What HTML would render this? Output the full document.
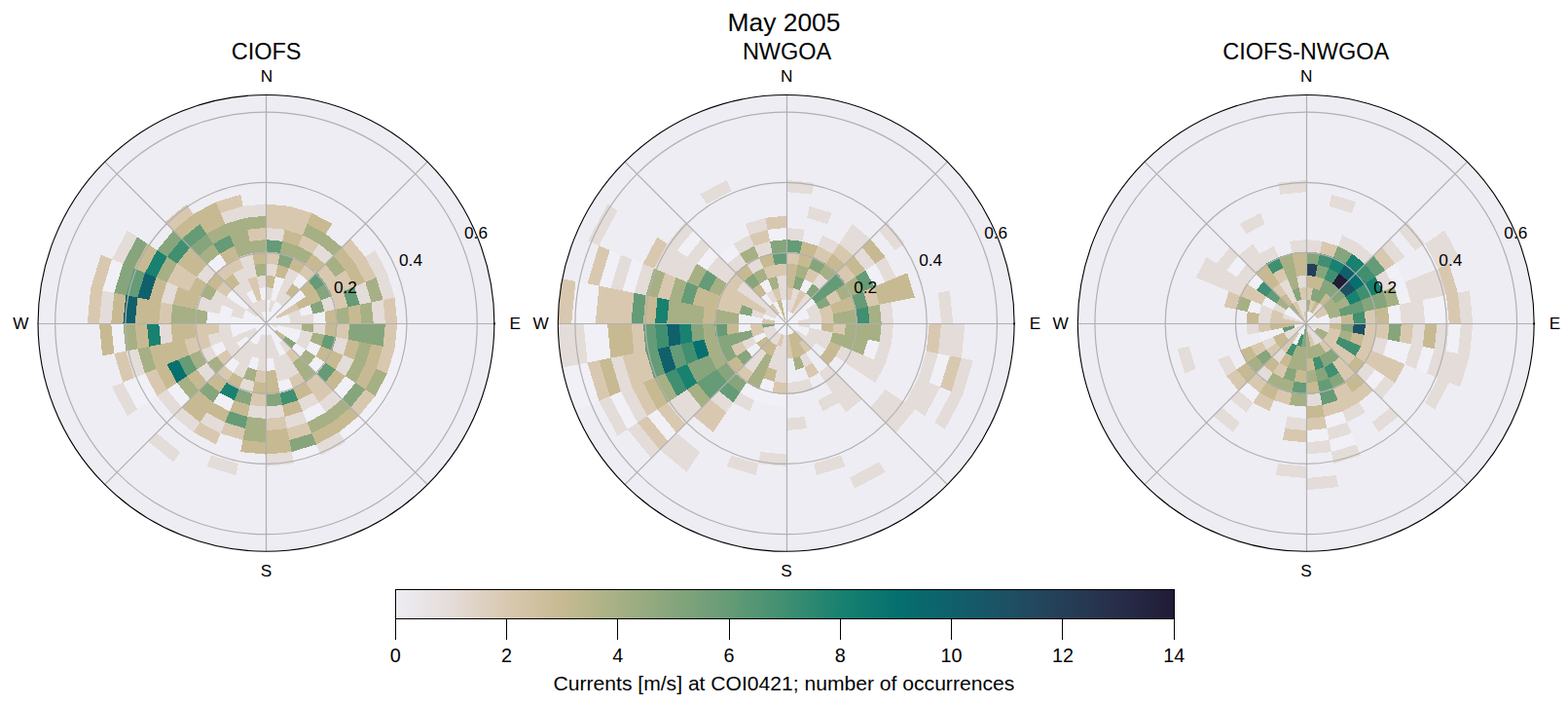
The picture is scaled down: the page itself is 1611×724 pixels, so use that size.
<!DOCTYPE html>
<html><head><meta charset="utf-8"><title>May 2005</title>
<style>html,body{margin:0;padding:0;background:#fff}svg{display:block}text{font-family:"Liberation Sans",sans-serif;fill:#000}</style></head>
<body>
<svg width="1611" height="724" viewBox="0 0 1611 724">
<rect width="1611" height="724" fill="#fff"/>
<clipPath id="cp0"><circle cx="273.45" cy="331.90" r="234.4"/></clipPath>
<circle cx="273.45" cy="331.90" r="234.4" fill="#eeedf3"/>
<g clip-path="url(#cp0)" shape-rendering="crispEdges">
<path fill="#f0f0f6" d="M273.4 331.9L273.4 319.6L275.8 319.9L273.4 331.9ZM273.4 319.6L273.4 307.4L278.2 307.9L275.8 319.9ZM273.4 331.9L275.8 319.9L278.1 320.6L273.4 331.9ZM278.2 307.9L280.6 295.9L287.5 297.9L282.8 309.3ZM280.6 295.9L283.0 283.8L292.2 286.6L287.5 297.9ZM273.4 331.9L278.1 320.6L280.3 321.7L273.4 331.9ZM278.1 320.6L282.8 309.3L287.1 311.5L280.3 321.7ZM273.4 331.9L280.3 321.7L282.1 323.2L273.4 331.9ZM280.3 321.7L287.1 311.5L290.8 314.6L282.1 323.2ZM300.7 291.2L307.5 281.0L316.8 288.6L308.1 297.3ZM273.4 331.9L282.1 323.2L283.6 325.1L273.4 331.9ZM282.1 323.2L290.8 314.6L293.8 318.3L283.6 325.1ZM290.8 314.6L299.4 305.9L304.0 311.5L293.8 318.3ZM299.4 305.9L308.1 297.3L314.2 304.7L304.0 311.5ZM273.4 331.9L283.6 325.1L284.8 327.2L273.4 331.9ZM273.4 331.9L284.8 327.2L285.5 329.5L273.4 331.9ZM284.8 327.2L296.1 322.5L297.5 327.1L285.5 329.5ZM307.4 317.8L318.7 313.1L321.5 322.3L309.5 324.7ZM273.4 331.9L285.5 329.5L285.7 331.9L273.4 331.9ZM285.5 329.5L297.5 327.1L297.9 331.9L285.7 331.9ZM321.5 322.3L333.5 320.0L334.7 331.9L322.4 331.9ZM408.2 331.9L420.4 331.9L417.6 360.6L405.6 358.2ZM285.5 334.3L297.5 336.7L296.1 341.3L284.8 336.6ZM297.5 336.7L309.5 339.1L307.4 346.0L296.1 341.3ZM405.6 358.2L417.6 360.6L409.3 388.2L397.9 383.5ZM273.4 331.9L284.8 336.6L283.6 338.7L273.4 331.9ZM284.8 336.6L296.1 341.3L293.8 345.5L283.6 338.7ZM296.1 341.3L307.4 346.0L304.0 352.3L293.8 345.5ZM318.7 350.7L330.0 355.3L324.4 365.9L314.2 359.1ZM397.9 383.5L409.3 388.2L395.7 413.6L385.5 406.8ZM273.4 331.9L283.6 338.7L282.1 340.6L273.4 331.9ZM304.0 352.3L314.2 359.1L308.1 366.5L299.4 357.9ZM324.4 365.9L334.6 372.7L325.4 383.9L316.8 375.2ZM354.9 386.3L365.1 393.2L351.4 409.9L342.7 401.2ZM385.5 406.8L395.7 413.6L377.4 435.8L368.7 427.2ZM273.4 331.9L282.1 340.6L280.3 342.1L273.4 331.9ZM282.1 340.6L290.8 349.2L287.1 352.3L280.3 342.1ZM368.7 427.2L377.4 435.8L355.1 454.1L348.3 443.9ZM273.4 331.9L280.3 342.1L278.1 343.2L273.4 331.9ZM280.3 342.1L287.1 352.3L282.8 354.5L278.1 343.2ZM287.1 352.3L293.9 362.5L287.5 365.9L282.8 354.5ZM327.9 413.4L334.7 423.6L315.6 433.8L311.0 422.4ZM273.4 331.9L278.1 343.2L275.8 343.9L273.4 331.9ZM296.9 388.5L301.6 399.8L287.8 404.0L285.4 392.0ZM325.0 456.4L329.7 467.7L302.1 476.1L299.7 464.1ZM273.4 331.9L275.8 343.9L273.4 344.1L273.4 331.9ZM280.6 367.9L283.0 380.0L273.4 380.9L273.4 368.6ZM273.4 331.9L273.4 344.1L271.1 343.9L273.4 331.9ZM273.4 331.9L271.1 343.9L268.8 343.2L273.4 331.9ZM266.3 367.9L263.9 380.0L254.7 377.2L259.4 365.9ZM273.4 331.9L268.8 343.2L266.6 342.1L273.4 331.9ZM268.8 343.2L264.1 354.5L259.8 352.3L266.6 342.1ZM240.6 411.1L235.9 422.4L219.0 413.4L225.8 403.2ZM273.4 331.9L266.6 342.1L264.8 340.6L273.4 331.9ZM266.6 342.1L259.8 352.3L256.1 349.2L264.8 340.6ZM246.2 372.6L239.4 382.8L230.1 375.2L238.8 366.5ZM273.4 331.9L264.8 340.6L263.3 338.7L273.4 331.9ZM256.1 349.2L247.5 357.9L242.9 352.3L253.1 345.5ZM195.5 409.9L186.8 418.5L171.6 400.0L181.8 393.2ZM273.4 331.9L263.3 338.7L262.1 336.6L273.4 331.9ZM232.7 359.1L222.5 365.9L216.9 355.3L228.2 350.7ZM161.4 406.8L151.2 413.6L137.6 388.2L149.0 383.5ZM151.2 413.6L141.0 420.4L126.3 392.8L137.6 388.2ZM273.4 331.9L262.1 336.6L261.4 334.3L273.4 331.9ZM262.1 336.6L250.8 341.3L249.4 336.7L261.4 334.3ZM250.8 341.3L239.5 346.0L237.4 339.1L249.4 336.7ZM273.4 331.9L261.4 334.3L261.2 331.9L273.4 331.9ZM261.4 334.3L249.4 336.7L248.9 331.9L261.2 331.9ZM249.4 336.7L237.4 339.1L236.7 331.9L248.9 331.9ZM129.3 360.6L117.3 363.0L114.2 331.9L126.4 331.9ZM273.4 331.9L261.2 331.9L261.4 329.5L273.4 331.9ZM261.2 331.9L248.9 331.9L249.4 327.1L261.4 329.5ZM248.9 331.9L236.7 331.9L237.4 324.7L249.4 327.1ZM236.7 331.9L224.4 331.9L225.4 322.3L237.4 324.7ZM224.4 331.9L212.2 331.9L213.4 320.0L225.4 322.3ZM273.4 331.9L261.4 329.5L262.1 327.2L273.4 331.9ZM261.4 329.5L249.4 327.1L250.8 322.5L262.1 327.2ZM237.4 324.7L225.4 322.3L228.2 313.1L239.5 317.8ZM117.3 300.8L105.2 298.4L115.0 266.3L126.3 271.0ZM273.4 331.9L262.1 327.2L263.3 325.1L273.4 331.9ZM262.1 327.2L250.8 322.5L253.1 318.3L263.3 325.1ZM273.4 331.9L263.3 325.1L264.8 323.2L273.4 331.9ZM253.1 318.3L242.9 311.5L247.5 305.9L256.1 314.6ZM242.9 311.5L232.7 304.7L238.8 297.3L247.5 305.9ZM221.5 279.9L212.8 271.3L225.8 260.6L232.6 270.8ZM259.8 311.5L253.0 301.3L259.4 297.9L264.1 309.3ZM273.4 331.9L268.8 320.6L271.1 319.9L273.4 331.9ZM273.4 331.9L271.1 319.9L273.4 319.6L273.4 331.9ZM268.7 307.9L266.3 295.9L273.4 295.1L273.4 307.4Z"/>
<path fill="#e4dcd8" d="M273.4 307.4L273.4 295.1L280.6 295.9L278.2 307.9ZM273.4 282.9L273.4 270.6L285.4 271.8L283.0 283.8ZM273.4 246.1L273.4 233.9L292.6 235.8L290.2 247.8ZM275.8 319.9L278.2 307.9L282.8 309.3L278.1 320.6ZM282.8 309.3L287.5 297.9L293.9 301.3L287.1 311.5ZM287.5 297.9L292.2 286.6L300.7 291.2L293.9 301.3ZM292.2 286.6L296.9 275.3L307.5 281.0L300.7 291.2ZM287.1 311.5L293.9 301.3L299.4 305.9L290.8 314.6ZM321.1 260.6L327.9 250.4L342.7 262.6L334.1 271.3ZM375.3 263.8L385.5 257.0L397.9 280.3L386.6 285.0ZM296.1 322.5L307.4 317.8L309.5 324.7L297.5 327.1ZM330.0 308.5L341.4 303.8L345.5 317.6L333.5 320.0ZM364.0 294.4L375.3 289.7L381.6 310.4L369.6 312.8ZM386.6 285.0L397.9 280.3L405.6 305.6L393.6 308.0ZM297.5 327.1L309.5 324.7L310.2 331.9L297.9 331.9ZM309.5 324.7L321.5 322.3L322.4 331.9L310.2 331.9ZM381.6 310.4L393.6 308.0L395.9 331.9L383.7 331.9ZM273.4 331.9L285.7 331.9L285.5 334.3L273.4 331.9ZM285.7 331.9L297.9 331.9L297.5 336.7L285.5 334.3ZM297.9 331.9L310.2 331.9L309.5 339.1L297.5 336.7ZM322.4 331.9L334.7 331.9L333.5 343.8L321.5 341.5ZM273.4 331.9L285.5 334.3L284.8 336.6L273.4 331.9ZM309.5 339.1L321.5 341.5L318.7 350.7L307.4 346.0ZM345.5 346.2L357.6 348.6L352.7 364.7L341.4 360.0ZM307.4 346.0L318.7 350.7L314.2 359.1L304.0 352.3ZM352.7 364.7L364.0 369.4L354.9 386.3L344.7 379.5ZM290.8 349.2L299.4 357.9L293.9 362.5L287.1 352.3ZM342.7 401.2L351.4 409.9L334.7 423.6L327.9 413.4ZM293.9 362.5L300.7 372.6L292.2 377.2L287.5 365.9ZM300.7 372.6L307.5 382.8L296.9 388.5L292.2 377.2ZM321.1 403.2L327.9 413.4L311.0 422.4L306.3 411.1ZM348.3 443.9L355.1 454.1L329.7 467.7L325.0 456.4ZM278.1 343.2L282.8 354.5L278.2 355.9L275.8 343.9ZM282.8 354.5L287.5 365.9L280.6 367.9L278.2 355.9ZM287.5 365.9L292.2 377.2L283.0 380.0L280.6 367.9ZM292.2 377.2L296.9 388.5L285.4 392.0L283.0 380.0ZM311.0 422.4L315.6 433.8L295.0 440.0L292.6 428.0ZM275.8 343.9L278.2 355.9L273.4 356.4L273.4 344.1ZM278.2 355.9L280.6 367.9L273.4 368.6L273.4 356.4ZM290.2 416.0L292.6 428.0L273.4 429.9L273.4 417.6ZM299.7 464.1L302.1 476.1L273.4 478.9L273.4 466.6ZM273.4 344.1L273.4 356.4L268.7 355.9L271.1 343.9ZM273.4 356.4L273.4 368.6L266.3 367.9L268.7 355.9ZM273.4 368.6L273.4 380.9L263.9 380.0L266.3 367.9ZM273.4 417.6L273.4 429.9L254.3 428.0L256.7 416.0ZM271.1 343.9L268.7 355.9L264.1 354.5L268.8 343.2ZM268.7 355.9L266.3 367.9L259.4 365.9L264.1 354.5ZM261.5 392.0L259.1 404.0L245.3 399.8L250.0 388.5ZM244.8 476.1L242.4 488.1L212.5 479.0L217.2 467.7ZM264.1 354.5L259.4 365.9L253.0 362.5L259.8 352.3ZM259.4 365.9L254.7 377.2L246.2 372.6L253.0 362.5ZM254.7 377.2L250.0 388.5L239.4 382.8L246.2 372.6ZM231.3 433.8L226.6 445.1L205.4 433.8L212.2 423.6ZM259.8 352.3L253.0 362.5L247.5 357.9L256.1 349.2ZM253.0 362.5L246.2 372.6L238.8 366.5L247.5 357.9ZM205.4 433.8L198.6 443.9L178.2 427.2L186.8 418.5ZM185.0 464.3L178.2 474.5L152.2 453.2L160.8 444.5ZM264.8 340.6L256.1 349.2L253.1 345.5L263.3 338.7ZM247.5 357.9L238.8 366.5L232.7 359.1L242.9 352.3ZM221.5 383.9L212.8 392.5L202.2 379.5L212.3 372.7ZM186.8 418.5L178.2 427.2L161.4 406.8L171.6 400.0ZM263.3 338.7L253.1 345.5L250.8 341.3L262.1 336.6ZM253.1 345.5L242.9 352.3L239.5 346.0L250.8 341.3ZM242.9 352.3L232.7 359.1L228.2 350.7L239.5 346.0ZM222.5 365.9L212.3 372.7L205.5 360.0L216.9 355.3ZM141.0 420.4L130.9 427.2L115.0 397.5L126.3 392.8ZM239.5 346.0L228.2 350.7L225.4 341.5L237.4 339.1ZM228.2 350.7L216.9 355.3L213.4 343.8L225.4 341.5ZM149.0 383.5L137.6 388.2L129.3 360.6L141.3 358.2ZM237.4 339.1L225.4 341.5L224.4 331.9L236.7 331.9ZM177.3 351.0L165.3 353.4L163.2 331.9L175.4 331.9ZM114.2 331.9L101.9 331.9L105.2 298.4L117.3 300.8ZM249.4 327.1L237.4 324.7L239.5 317.8L250.8 322.5ZM225.4 322.3L213.4 320.0L216.9 308.5L228.2 313.1ZM213.4 320.0L201.4 317.6L205.5 303.8L216.9 308.5ZM177.3 312.8L165.3 310.4L171.6 289.7L182.9 294.4ZM250.8 322.5L239.5 317.8L242.9 311.5L253.1 318.3ZM239.5 317.8L228.2 313.1L232.7 304.7L242.9 311.5ZM228.2 313.1L216.9 308.5L222.5 297.9L232.7 304.7ZM126.3 271.0L115.0 266.3L130.9 236.6L141.0 243.4ZM263.3 325.1L253.1 318.3L256.1 314.6L264.8 323.2ZM212.3 291.1L202.2 284.3L212.8 271.3L221.5 279.9ZM273.4 331.9L264.8 323.2L266.6 321.7L273.4 331.9ZM264.8 323.2L256.1 314.6L259.8 311.5L266.6 321.7ZM256.1 314.6L247.5 305.9L253.0 301.3L259.8 311.5ZM247.5 305.9L238.8 297.3L246.2 291.2L253.0 301.3ZM273.4 331.9L266.6 321.7L268.8 320.6L273.4 331.9ZM266.6 321.7L259.8 311.5L264.1 309.3L268.8 320.6ZM253.0 301.3L246.2 291.2L254.7 286.6L259.4 297.9ZM246.2 291.2L239.4 281.0L250.0 275.3L254.7 286.6ZM268.8 320.6L264.1 309.3L268.7 307.9L271.1 319.9ZM254.7 286.6L250.0 275.3L261.5 271.8L263.9 283.8ZM250.0 275.3L245.3 264.0L259.1 259.8L261.5 271.8ZM231.3 230.0L226.6 218.7L249.6 211.8L251.9 223.8ZM271.1 319.9L268.7 307.9L273.4 307.4L273.4 319.6ZM266.3 295.9L263.9 283.8L273.4 282.9L273.4 295.1ZM251.9 223.8L249.6 211.8L273.4 209.4L273.4 221.6Z"/>
<path fill="#c7ba92" d="M273.4 295.1L273.4 282.9L283.0 283.8L280.6 295.9ZM283.0 283.8L285.4 271.8L296.9 275.3L292.2 286.6ZM290.2 247.8L292.6 235.8L311.0 241.4L306.3 252.7ZM296.9 275.3L301.6 264.0L314.3 270.8L307.5 281.0ZM315.6 230.0L320.3 218.7L341.5 230.0L334.7 240.2ZM293.9 301.3L300.7 291.2L308.1 297.3L299.4 305.9ZM314.3 270.8L321.1 260.6L334.1 271.3L325.4 279.9ZM308.1 297.3L316.8 288.6L324.4 297.9L314.2 304.7ZM342.7 262.6L351.4 253.9L365.1 270.6L354.9 277.5ZM304.0 311.5L314.2 304.7L318.7 313.1L307.4 317.8ZM314.2 304.7L324.4 297.9L330.0 308.5L318.7 313.1ZM354.9 277.5L365.1 270.6L375.3 289.7L364.0 294.4ZM333.5 320.0L345.5 317.6L346.9 331.9L334.7 331.9ZM357.6 315.2L369.6 312.8L371.4 331.9L359.2 331.9ZM334.7 331.9L346.9 331.9L345.5 346.2L333.5 343.8ZM357.6 348.6L369.6 351.0L364.0 369.4L352.7 364.7ZM381.6 353.4L393.6 355.8L386.6 378.8L375.3 374.1ZM330.0 355.3L341.4 360.0L334.6 372.7L324.4 365.9ZM341.4 360.0L352.7 364.7L344.7 379.5L334.6 372.7ZM375.3 374.1L386.6 378.8L375.3 400.0L365.1 393.2ZM283.6 338.7L293.8 345.5L290.8 349.2L282.1 340.6ZM344.7 379.5L354.9 386.3L342.7 401.2L334.1 392.5ZM360.1 418.5L368.7 427.2L348.3 443.9L341.5 433.8ZM314.3 393.0L321.1 403.2L306.3 411.1L301.6 399.8ZM341.5 433.8L348.3 443.9L325.0 456.4L320.3 445.1ZM306.3 411.1L311.0 422.4L292.6 428.0L290.2 416.0ZM283.0 380.0L285.4 392.0L273.4 393.1L273.4 380.9ZM285.4 392.0L287.8 404.0L273.4 405.4L273.4 393.1ZM295.0 440.0L297.3 452.0L273.4 454.4L273.4 442.1ZM297.3 452.0L299.7 464.1L273.4 466.6L273.4 454.4ZM273.4 393.1L273.4 405.4L259.1 404.0L261.5 392.0ZM273.4 454.4L273.4 466.6L247.2 464.1L249.6 452.0ZM256.7 416.0L254.3 428.0L235.9 422.4L240.6 411.1ZM250.0 388.5L245.3 399.8L232.6 393.0L239.4 382.8ZM235.9 422.4L231.3 433.8L212.2 423.6L219.0 413.4ZM232.6 393.0L225.8 403.2L212.8 392.5L221.5 383.9ZM219.0 413.4L212.2 423.6L195.5 409.9L204.2 401.2ZM212.2 423.6L205.4 433.8L186.8 418.5L195.5 409.9ZM212.8 392.5L204.2 401.2L192.0 386.3L202.2 379.5ZM181.8 393.2L171.6 400.0L160.3 378.8L171.6 374.1ZM194.2 364.7L182.9 369.4L177.3 351.0L189.3 348.6ZM182.9 369.4L171.6 374.1L165.3 353.4L177.3 351.0ZM171.6 374.1L160.3 378.8L153.3 355.8L165.3 353.4ZM201.4 346.2L189.3 348.6L187.7 331.9L199.9 331.9ZM189.3 348.6L177.3 351.0L175.4 331.9L187.7 331.9ZM153.3 355.8L141.3 358.2L138.7 331.9L150.9 331.9ZM117.3 363.0L105.2 365.4L101.9 331.9L114.2 331.9ZM163.2 331.9L150.9 331.9L153.3 308.0L165.3 310.4ZM150.9 331.9L138.7 331.9L141.3 305.6L153.3 308.0ZM126.4 331.9L114.2 331.9L117.3 300.8L129.3 303.2ZM201.4 317.6L189.3 315.2L194.2 299.1L205.5 303.8ZM189.3 315.2L177.3 312.8L182.9 294.4L194.2 299.1ZM165.3 310.4L153.3 308.0L160.3 285.0L171.6 289.7ZM205.5 303.8L194.2 299.1L202.2 284.3L212.3 291.1ZM149.0 280.3L137.6 275.6L151.2 250.2L161.4 257.0ZM222.5 297.9L212.3 291.1L221.5 279.9L230.1 288.6ZM202.2 284.3L192.0 277.5L204.2 262.6L212.8 271.3ZM192.0 277.5L181.8 270.6L195.5 253.9L204.2 262.6ZM238.8 297.3L230.1 288.6L239.4 281.0L246.2 291.2ZM186.8 245.3L178.2 236.6L198.6 219.9L205.4 230.0ZM232.6 270.8L225.8 260.6L240.6 252.7L245.3 264.0ZM212.2 240.2L205.4 230.0L226.6 218.7L231.3 230.0ZM205.4 230.0L198.6 219.9L221.9 207.4L226.6 218.7ZM261.5 271.8L259.1 259.8L273.4 258.4L273.4 270.6Z"/>
<path fill="#d9c8b0" d="M273.4 270.6L273.4 258.4L287.8 259.8L285.4 271.8ZM273.4 233.9L273.4 221.6L295.0 223.8L292.6 235.8ZM273.4 221.6L273.4 209.4L297.3 211.8L295.0 223.8ZM292.6 235.8L295.0 223.8L315.6 230.0L311.0 241.4ZM295.0 223.8L297.3 211.8L320.3 218.7L315.6 230.0ZM306.3 252.7L311.0 241.4L327.9 250.4L321.1 260.6ZM307.5 281.0L314.3 270.8L325.4 279.9L316.8 288.6ZM325.4 279.9L334.1 271.3L344.7 284.3L334.6 291.1ZM351.4 253.9L360.1 245.3L375.3 263.8L365.1 270.6ZM283.6 325.1L293.8 318.3L296.1 322.5L284.8 327.2ZM293.8 318.3L304.0 311.5L307.4 317.8L296.1 322.5ZM334.6 291.1L344.7 284.3L352.7 299.1L341.4 303.8ZM344.7 284.3L354.9 277.5L364.0 294.4L352.7 299.1ZM365.1 270.6L375.3 263.8L386.6 285.0L375.3 289.7ZM341.4 303.8L352.7 299.1L357.6 315.2L345.5 317.6ZM393.6 308.0L405.6 305.6L408.2 331.9L395.9 331.9ZM346.9 331.9L359.2 331.9L357.6 348.6L345.5 346.2ZM395.9 331.9L408.2 331.9L405.6 358.2L393.6 355.8ZM393.6 355.8L405.6 358.2L397.9 383.5L386.6 378.8ZM375.3 400.0L385.5 406.8L368.7 427.2L360.1 418.5ZM299.4 357.9L308.1 366.5L300.7 372.6L293.9 362.5ZM325.4 383.9L334.1 392.5L321.1 403.2L314.3 393.0ZM334.1 392.5L342.7 401.2L327.9 413.4L321.1 403.2ZM307.5 382.8L314.3 393.0L301.6 399.8L296.9 388.5ZM315.6 433.8L320.3 445.1L297.3 452.0L295.0 440.0ZM292.6 428.0L295.0 440.0L273.4 442.1L273.4 429.9ZM273.4 380.9L273.4 393.1L261.5 392.0L263.9 380.0ZM273.4 405.4L273.4 417.6L256.7 416.0L259.1 404.0ZM251.9 440.0L249.6 452.0L226.6 445.1L231.3 433.8ZM226.6 445.1L221.9 456.4L198.6 443.9L205.4 433.8ZM239.4 382.8L232.6 393.0L221.5 383.9L230.1 375.2ZM238.8 366.5L230.1 375.2L222.5 365.9L232.7 359.1ZM171.6 400.0L161.4 406.8L149.0 383.5L160.3 378.8ZM216.9 355.3L205.5 360.0L201.4 346.2L213.4 343.8ZM205.5 360.0L194.2 364.7L189.3 348.6L201.4 346.2ZM137.6 388.2L126.3 392.8L117.3 363.0L129.3 360.6ZM225.4 341.5L213.4 343.8L212.2 331.9L224.4 331.9ZM213.4 343.8L201.4 346.2L199.9 331.9L212.2 331.9ZM175.4 331.9L163.2 331.9L165.3 310.4L177.3 312.8ZM101.9 331.9L89.7 331.9L93.2 296.1L105.2 298.4ZM105.2 298.4L93.2 296.1L103.7 261.6L115.0 266.3ZM194.2 299.1L182.9 294.4L192.0 277.5L202.2 284.3ZM182.9 294.4L171.6 289.7L181.8 270.6L192.0 277.5ZM232.7 304.7L222.5 297.9L230.1 288.6L238.8 297.3ZM230.1 288.6L221.5 279.9L232.6 270.8L239.4 281.0ZM178.2 236.6L169.5 228.0L191.8 209.7L198.6 219.9ZM239.4 281.0L232.6 270.8L245.3 264.0L250.0 275.3ZM264.1 309.3L259.4 297.9L266.3 295.9L268.7 307.9ZM259.4 297.9L254.7 286.6L263.9 283.8L266.3 295.9ZM226.6 218.7L221.9 207.4L247.2 199.7L249.6 211.8ZM256.7 247.8L254.3 235.8L273.4 233.9L273.4 246.1Z"/>
<path fill="#659b76" d="M273.4 258.4L273.4 246.1L290.2 247.8L287.8 259.8ZM316.8 288.6L325.4 279.9L334.6 291.1L324.4 297.9ZM352.7 299.1L364.0 294.4L369.6 312.8L357.6 315.2ZM333.5 343.8L345.5 346.2L341.4 360.0L330.0 355.3ZM334.6 372.7L344.7 379.5L334.1 392.5L325.4 383.9ZM254.3 428.0L251.9 440.0L231.3 433.8L235.9 422.4ZM202.2 379.5L192.0 386.3L182.9 369.4L194.2 364.7ZM141.3 305.6L129.3 303.2L137.6 275.6L149.0 280.3ZM195.5 253.9L186.8 245.3L205.4 230.0L212.2 240.2ZM225.8 260.6L219.0 250.4L235.9 241.4L240.6 252.7Z"/>
<path fill="#86a57c" d="M285.4 271.8L287.8 259.8L301.6 264.0L296.9 275.3ZM324.4 297.9L334.6 291.1L341.4 303.8L330.0 308.5ZM318.7 313.1L330.0 308.5L333.5 320.0L321.5 322.3ZM359.2 331.9L371.4 331.9L369.6 351.0L357.6 348.6ZM371.4 331.9L383.7 331.9L381.6 353.4L369.6 351.0ZM383.7 331.9L395.9 331.9L393.6 355.8L381.6 353.4ZM293.8 345.5L304.0 352.3L299.4 357.9L290.8 349.2ZM365.1 393.2L375.3 400.0L360.1 418.5L351.4 409.9ZM320.3 445.1L325.0 456.4L299.7 464.1L297.3 452.0ZM287.8 404.0L290.2 416.0L273.4 417.6L273.4 405.4ZM259.1 404.0L256.7 416.0L240.6 411.1L245.3 399.8ZM225.8 403.2L219.0 413.4L204.2 401.2L212.8 392.5ZM129.3 303.2L117.3 300.8L126.3 271.0L137.6 275.6ZM137.6 275.6L126.3 271.0L141.0 243.4L151.2 250.2ZM171.6 263.8L161.4 257.0L178.2 236.6L186.8 245.3ZM204.2 262.6L195.5 253.9L212.2 240.2L219.0 250.4Z"/>
<path fill="#a6b084" d="M287.8 259.8L290.2 247.8L306.3 252.7L301.6 264.0ZM301.6 264.0L306.3 252.7L321.1 260.6L314.3 270.8ZM311.0 241.4L315.6 230.0L334.7 240.2L327.9 250.4ZM327.9 250.4L334.7 240.2L351.4 253.9L342.7 262.6ZM334.1 271.3L342.7 262.6L354.9 277.5L344.7 284.3ZM375.3 289.7L386.6 285.0L393.6 308.0L381.6 310.4ZM345.5 317.6L357.6 315.2L359.2 331.9L346.9 331.9ZM369.6 312.8L381.6 310.4L383.7 331.9L371.4 331.9ZM310.2 331.9L322.4 331.9L321.5 341.5L309.5 339.1ZM321.5 341.5L333.5 343.8L330.0 355.3L318.7 350.7ZM369.6 351.0L381.6 353.4L375.3 374.1L364.0 369.4ZM364.0 369.4L375.3 374.1L365.1 393.2L354.9 386.3ZM386.6 378.8L397.9 383.5L385.5 406.8L375.3 400.0ZM314.2 359.1L324.4 365.9L316.8 375.2L308.1 366.5ZM308.1 366.5L316.8 375.2L307.5 382.8L300.7 372.6ZM316.8 375.2L325.4 383.9L314.3 393.0L307.5 382.8ZM351.4 409.9L360.1 418.5L341.5 433.8L334.7 423.6ZM334.7 423.6L341.5 433.8L320.3 445.1L315.6 433.8ZM273.4 429.9L273.4 442.1L251.9 440.0L254.3 428.0ZM273.4 442.1L273.4 454.4L249.6 452.0L251.9 440.0ZM263.9 380.0L261.5 392.0L250.0 388.5L254.7 377.2ZM230.1 375.2L221.5 383.9L212.3 372.7L222.5 365.9ZM204.2 401.2L195.5 409.9L181.8 393.2L192.0 386.3ZM212.3 372.7L202.2 379.5L194.2 364.7L205.5 360.0ZM160.3 378.8L149.0 383.5L141.3 358.2L153.3 355.8ZM141.3 358.2L129.3 360.6L126.4 331.9L138.7 331.9ZM212.2 331.9L199.9 331.9L201.4 317.6L213.4 320.0ZM199.9 331.9L187.7 331.9L189.3 315.2L201.4 317.6ZM187.7 331.9L175.4 331.9L177.3 312.8L189.3 315.2ZM216.9 308.5L205.5 303.8L212.3 291.1L222.5 297.9ZM171.6 289.7L160.3 285.0L171.6 263.8L181.8 270.6ZM212.8 271.3L204.2 262.6L219.0 250.4L225.8 260.6ZM219.0 250.4L212.2 240.2L231.3 230.0L235.9 241.4ZM245.3 264.0L240.6 252.7L256.7 247.8L259.1 259.8ZM240.6 252.7L235.9 241.4L254.3 235.8L256.7 247.8ZM235.9 241.4L231.3 230.0L251.9 223.8L254.3 235.8ZM263.9 283.8L261.5 271.8L273.4 270.6L273.4 282.9ZM259.1 259.8L256.7 247.8L273.4 246.1L273.4 258.4ZM254.3 235.8L251.9 223.8L273.4 221.6L273.4 233.9Z"/>
<path fill="#408f71" d="M301.6 399.8L306.3 411.1L290.2 416.0L287.8 404.0ZM181.8 270.6L171.6 263.8L186.8 245.3L195.5 253.9Z"/>
<path fill="#198170" d="M245.3 399.8L240.6 411.1L225.8 403.2L232.6 393.0ZM165.3 353.4L153.3 355.8L150.9 331.9L163.2 331.9ZM160.3 285.0L149.0 280.3L161.4 257.0L171.6 263.8Z"/>
<path fill="#05706f" d="M192.0 386.3L181.8 393.2L171.6 374.1L182.9 369.4Z"/>
<path fill="#0f606b" d="M138.7 331.9L126.4 331.9L129.3 303.2L141.3 305.6ZM153.3 308.0L141.3 305.6L149.0 280.3L160.3 285.0Z"/>
</g>
<g fill="none" stroke="#b0b0b0" stroke-width="1.2"><circle cx="273.45" cy="331.90" r="72.26"/><circle cx="273.45" cy="331.90" r="144.52"/><circle cx="273.45" cy="331.90" r="216.78"/><line x1="273.5" y1="97.5" x2="273.5" y2="566.3"/><line x1="39.0" y1="332.5" x2="507.9" y2="332.5"/><line x1="273.4" y1="331.9" x2="439.2" y2="166.2"/><line x1="273.4" y1="331.9" x2="439.2" y2="497.6"/><line x1="273.4" y1="331.9" x2="107.7" y2="497.6"/><line x1="273.4" y1="331.9" x2="107.7" y2="166.2"/></g>
<circle cx="273.45" cy="331.90" r="234.4" fill="none" stroke="#000" stroke-width="1.1"/>
<rect x="507.0" y="331.5" width="1.8" height="1.8" fill="#000"/>
<clipPath id="cp1"><circle cx="807.70" cy="331.90" r="234.4"/></clipPath>
<circle cx="807.70" cy="331.90" r="234.4" fill="#eeedf3"/>
<g clip-path="url(#cp1)" shape-rendering="crispEdges">
<path fill="#f0f0f6" d="M807.7 331.9L807.7 319.6L810.1 319.9L807.7 331.9ZM807.7 331.9L810.1 319.9L812.4 320.6L807.7 331.9ZM807.7 331.9L812.4 320.6L814.5 321.7L807.7 331.9ZM821.8 297.9L826.5 286.6L834.9 291.2L828.1 301.3ZM807.7 331.9L814.5 321.7L816.4 323.2L807.7 331.9ZM807.7 331.9L816.4 323.2L817.9 325.1L807.7 331.9ZM816.4 323.2L825.0 314.6L828.1 318.3L817.9 325.1ZM825.0 314.6L833.7 305.9L838.3 311.5L828.1 318.3ZM807.7 331.9L817.9 325.1L819.0 327.2L807.7 331.9ZM817.9 325.1L828.1 318.3L830.3 322.5L819.0 327.2ZM889.2 277.5L899.4 270.6L909.6 289.7L898.2 294.4ZM807.7 331.9L819.0 327.2L819.7 329.5L807.7 331.9ZM819.0 327.2L830.3 322.5L831.7 327.1L819.7 329.5ZM807.7 331.9L819.7 329.5L820.0 331.9L807.7 331.9ZM807.7 331.9L820.0 331.9L819.7 334.3L807.7 331.9ZM832.2 331.9L844.5 331.9L843.7 339.1L831.7 336.7ZM807.7 331.9L819.7 334.3L819.0 336.6L807.7 331.9ZM819.7 334.3L831.7 336.7L830.3 341.3L819.0 336.6ZM891.8 348.6L903.8 351.0L898.2 369.4L886.9 364.7ZM963.9 363.0L975.9 365.4L966.1 397.5L954.8 392.8ZM807.7 331.9L819.0 336.6L817.9 338.7L807.7 331.9ZM819.0 336.6L830.3 341.3L828.1 345.5L817.9 338.7ZM807.7 331.9L817.9 338.7L816.4 340.6L807.7 331.9ZM807.7 331.9L816.4 340.6L814.5 342.1L807.7 331.9ZM807.7 331.9L814.5 342.1L812.4 343.2L807.7 331.9ZM807.7 331.9L812.4 343.2L810.1 343.9L807.7 331.9ZM807.7 331.9L810.1 343.9L807.7 344.1L807.7 331.9ZM807.7 331.9L807.7 344.1L805.3 343.9L807.7 331.9ZM807.7 405.4L807.7 417.6L791.0 416.0L793.4 404.0ZM807.7 331.9L805.3 343.9L803.0 343.2L807.7 331.9ZM795.8 392.0L793.4 404.0L779.6 399.8L784.3 388.5ZM793.4 404.0L791.0 416.0L774.9 411.1L779.6 399.8ZM807.7 331.9L803.0 343.2L800.9 342.1L807.7 331.9ZM779.6 399.8L774.9 411.1L760.1 403.2L766.9 393.0ZM807.7 331.9L800.9 342.1L799.0 340.6L807.7 331.9ZM807.7 331.9L799.0 340.6L797.5 338.7L807.7 331.9ZM781.7 357.9L773.1 366.5L767.0 359.1L777.1 352.3ZM695.1 444.5L686.4 453.2L665.1 427.2L675.3 420.4ZM807.7 331.9L797.5 338.7L796.4 336.6L807.7 331.9ZM787.3 345.5L777.1 352.3L773.7 346.0L785.1 341.3ZM654.9 434.0L644.7 440.8L626.6 406.9L637.9 402.2ZM807.7 331.9L796.4 336.6L795.7 334.3L807.7 331.9ZM615.3 411.6L604.0 416.3L591.4 374.9L603.5 372.5ZM604.0 416.3L588.4 422.7L574.9 378.2L591.4 374.9ZM807.7 331.9L795.7 334.3L795.5 331.9L807.7 331.9ZM771.7 339.1L759.6 341.5L758.7 331.9L771.0 331.9ZM627.5 367.7L615.5 370.1L611.7 331.9L624.0 331.9ZM615.5 370.1L603.5 372.5L599.5 331.9L611.7 331.9ZM807.7 331.9L795.5 331.9L795.7 329.5L807.7 331.9ZM783.2 331.9L771.0 331.9L771.7 324.7L783.7 327.1ZM771.0 331.9L758.7 331.9L759.6 322.3L771.7 324.7ZM611.7 331.9L599.5 331.9L603.5 291.3L615.5 293.7ZM599.5 331.9L587.2 331.9L591.4 288.9L603.5 291.3ZM807.7 331.9L795.7 329.5L796.4 327.2L807.7 331.9ZM795.7 329.5L783.7 327.1L785.1 322.5L796.4 327.2ZM651.5 300.8L639.5 298.4L649.3 266.3L660.6 271.0ZM627.5 296.1L615.5 293.7L626.6 256.9L637.9 261.6ZM807.7 331.9L796.4 327.2L797.5 325.1L807.7 331.9ZM807.7 331.9L797.5 325.1L799.0 323.2L807.7 331.9ZM726.2 277.5L716.0 270.6L729.7 253.9L738.4 262.6ZM705.8 263.8L695.7 257.0L712.4 236.6L721.1 245.3ZM807.7 331.9L799.0 323.2L800.9 321.7L807.7 331.9ZM790.4 314.6L781.7 305.9L787.3 301.3L794.1 311.5ZM747.1 271.3L738.4 262.6L753.3 250.4L760.1 260.6ZM807.7 331.9L800.9 321.7L803.0 320.6L807.7 331.9ZM800.9 321.7L794.1 311.5L798.3 309.3L803.0 320.6ZM787.3 301.3L780.5 291.2L788.9 286.6L793.6 297.9ZM807.7 331.9L805.3 319.9L807.7 319.6L807.7 331.9ZM805.3 319.9L802.9 307.9L807.7 307.4L807.7 319.6ZM791.0 247.8L788.6 235.8L807.7 233.9L807.7 246.1Z"/>
<path fill="#e4dcd8" d="M807.7 319.6L807.7 307.4L812.5 307.9L810.1 319.9ZM807.7 246.1L807.7 233.9L826.8 235.8L824.4 247.8ZM807.7 197.1L807.7 184.9L836.4 187.7L834.0 199.7ZM810.1 319.9L812.5 307.9L817.1 309.3L812.4 320.6ZM812.5 307.9L814.9 295.9L821.8 297.9L817.1 309.3ZM829.2 223.8L831.6 211.8L854.6 218.7L849.9 230.0ZM840.5 252.7L845.2 241.4L862.1 250.4L855.3 260.6ZM814.5 321.7L821.3 311.5L825.0 314.6L816.4 323.2ZM821.3 311.5L828.1 301.3L833.7 305.9L825.0 314.6ZM834.9 291.2L841.7 281.0L851.0 288.6L842.3 297.3ZM862.1 250.4L869.0 240.2L885.7 253.9L877.0 262.6ZM869.0 240.2L875.8 230.0L894.3 245.3L885.7 253.9ZM877.0 262.6L885.7 253.9L899.4 270.6L889.2 277.5ZM903.0 236.6L911.6 228.0L929.9 250.2L919.7 257.0ZM828.1 318.3L838.3 311.5L841.7 317.8L830.3 322.5ZM899.4 270.6L909.6 263.8L920.9 285.0L909.6 289.7ZM830.3 322.5L841.7 317.8L843.7 324.7L831.7 327.1ZM819.7 329.5L831.7 327.1L832.2 331.9L820.0 331.9ZM831.7 327.1L843.7 324.7L844.5 331.9L832.2 331.9ZM903.8 312.8L915.8 310.4L918.0 331.9L905.7 331.9ZM963.9 300.8L975.9 298.4L979.2 331.9L967.0 331.9ZM820.0 331.9L832.2 331.9L831.7 336.7L819.7 334.3ZM905.7 331.9L918.0 331.9L915.8 353.4L903.8 351.0ZM967.0 331.9L979.2 331.9L975.9 365.4L963.9 363.0ZM979.2 331.9L991.5 331.9L987.9 367.7L975.9 365.4ZM831.7 336.7L843.7 339.1L841.7 346.0L830.3 341.3ZM843.7 339.1L855.8 341.5L853.0 350.7L841.7 346.0ZM903.8 351.0L915.8 353.4L909.6 374.1L898.2 369.4ZM951.9 360.6L963.9 363.0L954.8 392.8L943.5 388.2ZM987.9 367.7L999.9 370.1L988.8 406.9L977.5 402.2ZM830.3 341.3L841.7 346.0L838.3 352.3L828.1 345.5ZM841.7 346.0L853.0 350.7L848.4 359.1L838.3 352.3ZM864.3 355.3L875.6 360.0L868.8 372.7L858.6 365.9ZM875.6 360.0L886.9 364.7L879.0 379.5L868.8 372.7ZM886.9 364.7L898.2 369.4L889.2 386.3L879.0 379.5ZM898.2 369.4L909.6 374.1L899.4 393.2L889.2 386.3ZM943.5 388.2L954.8 392.8L940.1 420.4L929.9 413.6ZM954.8 392.8L966.1 397.5L950.3 427.2L940.1 420.4ZM977.5 402.2L988.8 406.9L970.7 440.8L960.5 434.0ZM817.9 338.7L828.1 345.5L825.0 349.2L816.4 340.6ZM828.1 345.5L838.3 352.3L833.7 357.9L825.0 349.2ZM909.6 400.0L919.7 406.8L903.0 427.2L894.3 418.5ZM919.7 406.8L929.9 413.6L911.6 435.8L903.0 427.2ZM929.9 413.6L940.1 420.4L920.3 444.5L911.6 435.8ZM851.0 375.2L859.7 383.9L848.5 393.0L841.7 382.8ZM859.7 383.9L868.3 392.5L855.3 403.2L848.5 393.0ZM868.3 392.5L877.0 401.2L862.1 413.4L855.3 403.2ZM877.0 401.2L885.7 409.9L869.0 423.6L862.1 413.4ZM828.1 362.5L834.9 372.6L826.5 377.2L821.8 365.9ZM855.3 403.2L862.1 413.4L845.2 422.4L840.5 411.1ZM903.0 474.5L909.8 484.7L878.0 501.7L873.3 490.3ZM831.1 388.5L835.8 399.8L822.0 404.0L819.6 392.0ZM864.0 467.7L868.6 479.0L838.8 488.1L836.4 476.1ZM819.6 392.0L822.0 404.0L807.7 405.4L807.7 393.1ZM826.8 428.0L829.2 440.0L807.7 442.1L807.7 429.9ZM807.7 344.1L807.7 356.4L802.9 355.9L805.3 343.9ZM807.7 356.4L807.7 368.6L800.5 367.9L802.9 355.9ZM807.7 368.6L807.7 380.9L798.1 380.0L800.5 367.9ZM807.7 380.9L807.7 393.1L795.8 392.0L798.1 380.0ZM807.7 466.6L807.7 478.9L779.0 476.1L781.4 464.1ZM802.9 355.9L800.5 367.9L793.6 365.9L798.3 354.5ZM800.5 367.9L798.1 380.0L788.9 377.2L793.6 365.9ZM779.0 476.1L776.6 488.1L746.8 479.0L751.4 467.7ZM803.0 343.2L798.3 354.5L794.1 352.3L800.9 342.1ZM774.9 411.1L770.2 422.4L753.3 413.4L760.1 403.2ZM800.9 342.1L794.1 352.3L790.4 349.2L799.0 340.6ZM787.3 362.5L780.5 372.6L773.1 366.5L781.7 357.9ZM780.5 372.6L773.7 382.8L764.4 375.2L773.1 366.5ZM753.3 413.4L746.4 423.6L729.7 409.9L738.4 401.2ZM719.2 464.3L712.4 474.5L686.4 453.2L695.1 444.5ZM712.4 474.5L705.6 484.7L677.8 461.8L686.4 453.2ZM799.0 340.6L790.4 349.2L787.3 345.5L797.5 338.7ZM721.1 418.5L712.4 427.2L695.7 406.8L705.8 400.0ZM712.4 427.2L703.8 435.8L685.5 413.6L695.7 406.8ZM677.8 461.8L669.1 470.5L644.7 440.8L654.9 434.0ZM797.5 338.7L787.3 345.5L785.1 341.3L796.4 336.6ZM777.1 352.3L767.0 359.1L762.4 350.7L773.7 346.0ZM665.1 427.2L654.9 434.0L637.9 402.2L649.3 397.5ZM644.7 440.8L634.5 447.6L615.3 411.6L626.6 406.9ZM796.4 336.6L785.1 341.3L783.7 336.7L795.7 334.3ZM649.3 397.5L637.9 402.2L627.5 367.7L639.5 365.4ZM603.5 372.5L591.4 374.9L587.2 331.9L599.5 331.9ZM591.4 374.9L574.9 378.2L570.3 331.9L587.2 331.9ZM783.7 327.1L771.7 324.7L773.7 317.8L785.1 322.5ZM663.5 303.2L651.5 300.8L660.6 271.0L671.9 275.6ZM639.5 298.4L627.5 296.1L637.9 261.6L649.3 266.3ZM796.4 327.2L785.1 322.5L787.3 318.3L797.5 325.1ZM705.8 289.7L694.5 285.0L705.8 263.8L716.0 270.6ZM694.5 285.0L683.2 280.3L695.7 257.0L705.8 263.8ZM683.2 280.3L671.9 275.6L685.5 250.2L695.7 257.0ZM615.3 252.2L604.0 247.5L624.4 209.4L634.5 216.2ZM797.5 325.1L787.3 318.3L790.4 314.6L799.0 323.2ZM787.3 318.3L777.1 311.5L781.7 305.9L790.4 314.6ZM777.1 311.5L767.0 304.7L773.1 297.3L781.7 305.9ZM767.0 304.7L756.8 297.9L764.4 288.6L773.1 297.3ZM746.6 291.1L736.4 284.3L747.1 271.3L755.7 279.9ZM736.4 284.3L726.2 277.5L738.4 262.6L747.1 271.3ZM716.0 270.6L705.8 263.8L721.1 245.3L729.7 253.9ZM695.7 257.0L685.5 250.2L703.8 228.0L712.4 236.6ZM755.7 279.9L747.1 271.3L760.1 260.6L766.9 270.8ZM794.1 311.5L787.3 301.3L793.6 297.9L798.3 309.3ZM773.7 281.0L766.9 270.8L779.6 264.0L784.3 275.3ZM760.1 260.6L753.3 250.4L770.2 241.4L774.9 252.7ZM726.0 209.7L719.2 199.5L746.8 184.8L751.4 196.1ZM779.6 264.0L774.9 252.7L791.0 247.8L793.4 259.8ZM770.2 241.4L765.5 230.0L786.2 223.8L788.6 235.8ZM802.9 307.9L800.5 295.9L807.7 295.1L807.7 307.4ZM800.5 295.9L798.1 283.8L807.7 282.9L807.7 295.1Z"/>
<path fill="#d9c8b0" d="M807.7 307.4L807.7 295.1L814.9 295.9L812.5 307.9ZM807.7 270.6L807.7 258.4L822.0 259.8L819.6 271.8ZM812.4 320.6L817.1 309.3L821.3 311.5L814.5 321.7ZM817.1 309.3L821.8 297.9L828.1 301.3L821.3 311.5ZM826.5 286.6L831.1 275.3L841.7 281.0L834.9 291.2ZM835.8 264.0L840.5 252.7L855.3 260.6L848.5 270.8ZM855.3 260.6L862.1 250.4L877.0 262.6L868.3 271.3ZM859.7 279.9L868.3 271.3L879.0 284.3L868.8 291.1ZM848.4 304.7L858.6 297.9L864.3 308.5L853.0 313.1ZM841.7 317.8L853.0 313.1L855.8 322.3L843.7 324.7ZM886.9 299.1L898.2 294.4L903.8 312.8L891.8 315.2ZM843.7 324.7L855.8 322.3L856.7 331.9L844.5 331.9ZM856.7 331.9L869.0 331.9L867.8 343.8L855.8 341.5ZM954.7 331.9L967.0 331.9L963.9 363.0L951.9 360.6ZM975.9 365.4L987.9 367.7L977.5 402.2L966.1 397.5ZM825.0 349.2L833.7 357.9L828.1 362.5L821.3 352.3ZM834.9 372.6L841.7 382.8L831.1 388.5L826.5 377.2ZM810.1 343.9L812.5 355.9L807.7 356.4L807.7 344.1ZM812.5 355.9L814.9 367.9L807.7 368.6L807.7 356.4ZM807.7 393.1L807.7 405.4L793.4 404.0L795.8 392.0ZM805.3 343.9L802.9 355.9L798.3 354.5L803.0 343.2ZM773.7 382.8L766.9 393.0L755.7 383.9L764.4 375.2ZM746.4 423.6L739.6 433.8L721.1 418.5L729.7 409.9ZM739.6 433.8L732.8 443.9L712.4 427.2L721.1 418.5ZM703.8 435.8L695.1 444.5L675.3 420.4L685.5 413.6ZM686.4 453.2L677.8 461.8L654.9 434.0L665.1 427.2ZM767.0 359.1L756.8 365.9L751.1 355.3L762.4 350.7ZM675.3 420.4L665.1 427.2L649.3 397.5L660.6 392.8ZM785.1 341.3L773.7 346.0L771.7 339.1L783.7 336.7ZM671.9 388.2L660.6 392.8L651.5 363.0L663.5 360.6ZM660.6 392.8L649.3 397.5L639.5 365.4L651.5 363.0ZM626.6 406.9L615.3 411.6L603.5 372.5L615.5 370.1ZM783.7 336.7L771.7 339.1L771.0 331.9L783.2 331.9ZM663.5 360.6L651.5 363.0L648.5 331.9L660.7 331.9ZM795.5 331.9L783.2 331.9L783.7 327.1L795.7 329.5ZM648.5 331.9L636.2 331.9L639.5 298.4L651.5 300.8ZM636.2 331.9L624.0 331.9L627.5 296.1L639.5 298.4ZM624.0 331.9L611.7 331.9L615.5 293.7L627.5 296.1ZM587.2 331.9L570.3 331.9L574.9 285.6L591.4 288.9ZM759.6 322.3L747.6 320.0L751.1 308.5L762.4 313.1ZM747.6 320.0L735.6 317.6L739.8 303.8L751.1 308.5ZM687.6 308.0L675.5 305.6L683.2 280.3L694.5 285.0ZM615.5 293.7L603.5 291.3L615.3 252.2L626.6 256.9ZM785.1 322.5L773.7 317.8L777.1 311.5L787.3 318.3ZM773.7 317.8L762.4 313.1L767.0 304.7L777.1 311.5ZM762.4 313.1L751.1 308.5L756.8 297.9L767.0 304.7ZM751.1 308.5L739.8 303.8L746.6 291.1L756.8 297.9ZM671.9 275.6L660.6 271.0L675.3 243.4L685.5 250.2ZM756.8 297.9L746.6 291.1L755.7 279.9L764.4 288.6ZM799.0 323.2L790.4 314.6L794.1 311.5L800.9 321.7ZM798.3 309.3L793.6 297.9L800.5 295.9L802.9 307.9ZM788.9 286.6L784.3 275.3L795.8 271.8L798.1 283.8ZM774.9 252.7L770.2 241.4L788.6 235.8L791.0 247.8ZM798.1 283.8L795.8 271.8L807.7 270.6L807.7 282.9ZM788.6 235.8L786.2 223.8L807.7 221.6L807.7 233.9Z"/>
<path fill="#c7ba92" d="M807.7 295.1L807.7 282.9L817.3 283.8L814.9 295.9ZM807.7 282.9L807.7 270.6L819.6 271.8L817.3 283.8ZM819.6 271.8L822.0 259.8L835.8 264.0L831.1 275.3ZM822.0 259.8L824.4 247.8L840.5 252.7L835.8 264.0ZM848.5 270.8L855.3 260.6L868.3 271.3L859.7 279.9ZM868.3 271.3L877.0 262.6L889.2 277.5L879.0 284.3ZM885.7 253.9L894.3 245.3L909.6 263.8L899.4 270.6ZM853.0 313.1L864.3 308.5L867.8 320.0L855.8 322.3ZM864.3 308.5L875.6 303.8L879.8 317.6L867.8 320.0ZM898.2 294.4L909.6 289.7L915.8 310.4L903.8 312.8ZM909.6 289.7L920.9 285.0L927.8 308.0L915.8 310.4ZM920.9 285.0L932.2 280.3L939.9 305.6L927.8 308.0ZM844.5 331.9L856.7 331.9L855.8 341.5L843.7 339.1ZM853.0 350.7L864.3 355.3L858.6 365.9L848.4 359.1ZM848.4 359.1L858.6 365.9L851.0 375.2L842.3 366.5ZM816.4 340.6L825.0 349.2L821.3 352.3L814.5 342.1ZM814.5 342.1L821.3 352.3L817.1 354.5L812.4 343.2ZM821.3 352.3L828.1 362.5L821.8 365.9L817.1 354.5ZM812.4 343.2L817.1 354.5L812.5 355.9L810.1 343.9ZM817.1 354.5L821.8 365.9L814.9 367.9L812.5 355.9ZM798.1 380.0L795.8 392.0L784.3 388.5L788.9 377.2ZM798.3 354.5L793.6 365.9L787.3 362.5L794.1 352.3ZM794.1 352.3L787.3 362.5L781.7 357.9L790.4 349.2ZM790.4 349.2L781.7 357.9L777.1 352.3L787.3 345.5ZM764.4 375.2L755.7 383.9L746.6 372.7L756.8 365.9ZM685.5 413.6L675.3 420.4L660.6 392.8L671.9 388.2ZM637.9 402.2L626.6 406.9L615.5 370.1L627.5 367.7ZM759.6 341.5L747.6 343.8L746.5 331.9L758.7 331.9ZM651.5 363.0L639.5 365.4L636.2 331.9L648.5 331.9ZM639.5 365.4L627.5 367.7L624.0 331.9L636.2 331.9ZM734.2 331.9L722.0 331.9L723.6 315.2L735.6 317.6ZM673.0 331.9L660.7 331.9L663.5 303.2L675.5 305.6ZM735.6 317.6L723.6 315.2L728.5 299.1L739.8 303.8ZM723.6 315.2L711.6 312.8L717.2 294.4L728.5 299.1ZM781.7 305.9L773.1 297.3L780.5 291.2L787.3 301.3ZM764.4 288.6L755.7 279.9L766.9 270.8L773.7 281.0ZM807.7 331.9L803.0 320.6L805.3 319.9L807.7 331.9ZM803.0 320.6L798.3 309.3L802.9 307.9L805.3 319.9ZM784.3 275.3L779.6 264.0L793.4 259.8L795.8 271.8Z"/>
<path fill="#659b76" d="M807.7 258.4L807.7 246.1L824.4 247.8L822.0 259.8ZM833.7 305.9L842.3 297.3L848.4 304.7L838.3 311.5ZM842.3 297.3L851.0 288.6L858.6 297.9L848.4 304.7ZM851.0 288.6L859.7 279.9L868.8 291.1L858.6 297.9ZM879.0 284.3L889.2 277.5L898.2 294.4L886.9 299.1ZM875.6 303.8L886.9 299.1L891.8 315.2L879.8 317.6ZM760.1 403.2L753.3 413.4L738.4 401.2L747.1 392.5ZM747.1 392.5L738.4 401.2L726.2 386.3L736.4 379.5ZM738.4 401.2L729.7 409.9L716.0 393.2L726.2 386.3ZM705.8 374.1L694.5 378.8L687.6 355.8L699.6 353.4ZM683.2 383.5L671.9 388.2L663.5 360.6L675.5 358.2ZM747.6 343.8L735.6 346.2L734.2 331.9L746.5 331.9ZM675.5 358.2L663.5 360.6L660.7 331.9L673.0 331.9ZM660.7 331.9L648.5 331.9L651.5 300.8L663.5 303.2ZM711.6 312.8L699.6 310.4L705.8 289.7L717.2 294.4ZM728.5 299.1L717.2 294.4L726.2 277.5L736.4 284.3ZM795.8 271.8L793.4 259.8L807.7 258.4L807.7 270.6Z"/>
<path fill="#86a57c" d="M814.9 295.9L817.3 283.8L826.5 286.6L821.8 297.9ZM831.1 275.3L835.8 264.0L848.5 270.8L841.7 281.0ZM828.1 301.3L834.9 291.2L842.3 297.3L833.7 305.9ZM838.3 311.5L848.4 304.7L853.0 313.1L841.7 317.8ZM766.9 393.0L760.1 403.2L747.1 392.5L755.7 383.9ZM773.1 366.5L764.4 375.2L756.8 365.9L767.0 359.1ZM755.7 383.9L747.1 392.5L736.4 379.5L746.6 372.7ZM756.8 365.9L746.6 372.7L739.8 360.0L751.1 355.3ZM736.4 379.5L726.2 386.3L717.2 369.4L728.5 364.7ZM726.2 386.3L716.0 393.2L705.8 374.1L717.2 369.4ZM773.7 346.0L762.4 350.7L759.6 341.5L771.7 339.1ZM762.4 350.7L751.1 355.3L747.6 343.8L759.6 341.5ZM751.1 355.3L739.8 360.0L735.6 346.2L747.6 343.8ZM795.7 334.3L783.7 336.7L783.2 331.9L795.5 331.9ZM723.6 348.6L711.6 351.0L709.7 331.9L722.0 331.9ZM771.7 324.7L759.6 322.3L762.4 313.1L773.7 317.8ZM773.1 297.3L764.4 288.6L773.7 281.0L780.5 291.2ZM793.4 259.8L791.0 247.8L807.7 246.1L807.7 258.4Z"/>
<path fill="#a6b084" d="M817.3 283.8L819.6 271.8L831.1 275.3L826.5 286.6ZM841.7 281.0L848.5 270.8L859.7 279.9L851.0 288.6ZM858.6 297.9L868.8 291.1L875.6 303.8L864.3 308.5ZM868.8 291.1L879.0 284.3L886.9 299.1L875.6 303.8ZM855.8 322.3L867.8 320.0L869.0 331.9L856.7 331.9ZM867.8 320.0L879.8 317.6L881.2 331.9L869.0 331.9ZM891.8 315.2L903.8 312.8L905.7 331.9L893.5 331.9ZM869.0 331.9L881.2 331.9L879.8 346.2L867.8 343.8ZM881.2 331.9L893.5 331.9L891.8 348.6L879.8 346.2ZM893.5 331.9L905.7 331.9L903.8 351.0L891.8 348.6ZM855.8 341.5L867.8 343.8L864.3 355.3L853.0 350.7ZM867.8 343.8L879.8 346.2L875.6 360.0L864.3 355.3ZM879.8 346.2L891.8 348.6L886.9 364.7L875.6 360.0ZM821.8 365.9L826.5 377.2L817.3 380.0L814.9 367.9ZM793.6 365.9L788.9 377.2L780.5 372.6L787.3 362.5ZM788.9 377.2L784.3 388.5L773.7 382.8L780.5 372.6ZM784.3 388.5L779.6 399.8L766.9 393.0L773.7 382.8ZM729.7 409.9L721.1 418.5L705.8 400.0L716.0 393.2ZM746.6 372.7L736.4 379.5L728.5 364.7L739.8 360.0ZM695.7 406.8L685.5 413.6L671.9 388.2L683.2 383.5ZM739.8 360.0L728.5 364.7L723.6 348.6L735.6 346.2ZM735.6 346.2L723.6 348.6L722.0 331.9L734.2 331.9ZM758.7 331.9L746.5 331.9L747.6 320.0L759.6 322.3ZM746.5 331.9L734.2 331.9L735.6 317.6L747.6 320.0ZM722.0 331.9L709.7 331.9L711.6 312.8L723.6 315.2ZM709.7 331.9L697.5 331.9L699.6 310.4L711.6 312.8ZM697.5 331.9L685.2 331.9L687.6 308.0L699.6 310.4ZM699.6 310.4L687.6 308.0L694.5 285.0L705.8 289.7ZM675.5 305.6L663.5 303.2L671.9 275.6L683.2 280.3ZM739.8 303.8L728.5 299.1L736.4 284.3L746.6 291.1ZM717.2 294.4L705.8 289.7L716.0 270.6L726.2 277.5ZM780.5 291.2L773.7 281.0L784.3 275.3L788.9 286.6ZM766.9 270.8L760.1 260.6L774.9 252.7L779.6 264.0ZM793.6 297.9L788.9 286.6L798.1 283.8L800.5 295.9Z"/>
<path fill="#408f71" d="M879.8 317.6L891.8 315.2L893.5 331.9L881.2 331.9ZM705.8 400.0L695.7 406.8L683.2 383.5L694.5 378.8ZM717.2 369.4L705.8 374.1L699.6 353.4L711.6 351.0ZM687.6 355.8L675.5 358.2L673.0 331.9L685.2 331.9Z"/>
<path fill="#198170" d="M716.0 393.2L705.8 400.0L694.5 378.8L705.8 374.1ZM711.6 351.0L699.6 353.4L697.5 331.9L709.7 331.9ZM685.2 331.9L673.0 331.9L675.5 305.6L687.6 308.0Z"/>
<path fill="#05706f" d="M728.5 364.7L717.2 369.4L711.6 351.0L723.6 348.6Z"/>
<path fill="#0f606b" d="M694.5 378.8L683.2 383.5L675.5 358.2L687.6 355.8ZM699.6 353.4L687.6 355.8L685.2 331.9L697.5 331.9Z"/>
</g>
<g fill="none" stroke="#b0b0b0" stroke-width="1.2"><circle cx="807.70" cy="331.90" r="72.26"/><circle cx="807.70" cy="331.90" r="144.52"/><circle cx="807.70" cy="331.90" r="216.78"/><line x1="808.5" y1="97.5" x2="808.5" y2="566.3"/><line x1="573.3" y1="332.5" x2="1042.1" y2="332.5"/><line x1="807.7" y1="331.9" x2="973.4" y2="166.2"/><line x1="807.7" y1="331.9" x2="973.4" y2="497.6"/><line x1="807.7" y1="331.9" x2="642.0" y2="497.6"/><line x1="807.7" y1="331.9" x2="642.0" y2="166.2"/></g>
<circle cx="807.70" cy="331.90" r="234.4" fill="none" stroke="#000" stroke-width="1.1"/>
<rect x="1041.2" y="331.5" width="1.8" height="1.8" fill="#000"/>
<clipPath id="cp2"><circle cx="1341.75" cy="331.90" r="234.4"/></clipPath>
<circle cx="1341.75" cy="331.90" r="234.4" fill="#eeedf3"/>
<g clip-path="url(#cp2)" shape-rendering="crispEdges">
<path fill="#f0f0f6" d="M1341.8 331.9L1341.8 319.6L1344.1 319.9L1341.8 331.9ZM1341.8 331.9L1344.1 319.9L1346.4 320.6L1341.8 331.9ZM1341.8 331.9L1346.4 320.6L1348.6 321.7L1341.8 331.9ZM1341.8 331.9L1348.6 321.7L1350.4 323.2L1341.8 331.9ZM1341.8 331.9L1350.4 323.2L1351.9 325.1L1341.8 331.9ZM1341.8 331.9L1351.9 325.1L1353.1 327.2L1341.8 331.9ZM1423.2 277.5L1433.4 270.6L1443.6 289.7L1432.3 294.4ZM1341.8 331.9L1353.1 327.2L1353.8 329.5L1341.8 331.9ZM1353.1 327.2L1364.4 322.5L1365.8 327.1L1353.8 329.5ZM1432.3 294.4L1443.6 289.7L1449.9 310.4L1437.9 312.8ZM1341.8 331.9L1353.8 329.5L1354.0 331.9L1341.8 331.9ZM1353.8 329.5L1365.8 327.1L1366.2 331.9L1354.0 331.9ZM1425.9 315.2L1437.9 312.8L1439.8 331.9L1427.5 331.9ZM1461.9 308.0L1473.9 305.6L1476.5 331.9L1464.2 331.9ZM1473.9 305.6L1485.9 303.2L1488.8 331.9L1476.5 331.9ZM1488.8 331.9L1501.0 331.9L1497.9 363.0L1485.9 360.6ZM1425.9 348.6L1437.9 351.0L1432.3 369.4L1421.0 364.7ZM1437.9 351.0L1449.9 353.4L1443.6 374.1L1432.3 369.4ZM1461.9 355.8L1473.9 358.2L1466.2 383.5L1454.9 378.8ZM1341.8 331.9L1351.9 338.7L1350.4 340.6L1341.8 331.9ZM1413.0 379.5L1423.2 386.3L1411.0 401.2L1402.4 392.5ZM1379.3 422.4L1383.9 433.8L1363.3 440.0L1360.9 428.0ZM1388.6 445.1L1393.3 456.4L1368.0 464.1L1365.6 452.0ZM1363.3 440.0L1365.6 452.0L1341.8 454.4L1341.8 442.1ZM1341.8 331.9L1339.4 343.9L1337.1 343.2L1341.8 331.9ZM1341.8 331.9L1337.1 343.2L1334.9 342.1L1341.8 331.9ZM1337.1 343.2L1332.4 354.5L1328.1 352.3L1334.9 342.1ZM1341.8 331.9L1334.9 342.1L1333.1 340.6L1341.8 331.9ZM1294.1 403.2L1287.3 413.4L1272.5 401.2L1281.1 392.5ZM1341.8 331.9L1330.4 336.6L1329.7 334.3L1341.8 331.9ZM1319.1 341.3L1307.8 346.0L1305.7 339.1L1317.7 336.7ZM1307.8 346.0L1296.5 350.7L1293.7 341.5L1305.7 339.1ZM1293.7 322.3L1281.7 320.0L1285.2 308.5L1296.5 313.1ZM1341.8 331.9L1330.4 327.2L1331.6 325.1L1341.8 331.9ZM1330.4 327.2L1319.1 322.5L1321.4 318.3L1331.6 325.1ZM1307.8 317.8L1296.5 313.1L1301.0 304.7L1311.2 311.5ZM1341.8 331.9L1331.6 325.1L1333.1 323.2L1341.8 331.9ZM1331.6 325.1L1321.4 318.3L1324.4 314.6L1333.1 323.2ZM1290.8 297.9L1280.6 291.1L1289.8 279.9L1298.4 288.6ZM1270.5 284.3L1260.3 277.5L1272.5 262.6L1281.1 271.3Z"/>
<path fill="#a6b084" d="M1341.8 319.6L1341.8 307.4L1346.5 307.9L1344.1 319.9ZM1359.1 314.6L1367.7 305.9L1372.3 311.5L1362.1 318.3ZM1362.1 318.3L1372.3 311.5L1375.7 317.8L1364.4 322.5ZM1372.3 311.5L1382.5 304.7L1387.0 313.1L1375.7 317.8ZM1364.4 322.5L1375.7 317.8L1377.8 324.7L1365.8 327.1ZM1421.0 299.1L1432.3 294.4L1437.9 312.8L1425.9 315.2ZM1377.8 339.1L1389.8 341.5L1387.0 350.7L1375.7 346.0ZM1353.1 336.6L1364.4 341.3L1362.1 345.5L1351.9 338.7ZM1351.9 338.7L1362.1 345.5L1359.1 349.2L1350.4 340.6ZM1355.4 352.3L1362.2 362.5L1355.8 365.9L1351.1 354.5ZM1351.1 354.5L1355.8 365.9L1348.9 367.9L1346.5 355.9ZM1341.8 331.9L1344.1 343.9L1341.8 344.1L1341.8 331.9ZM1344.1 343.9L1346.5 355.9L1341.8 356.4L1341.8 344.1ZM1346.5 355.9L1348.9 367.9L1341.8 368.6L1341.8 356.4ZM1351.3 380.0L1353.7 392.0L1341.8 393.1L1341.8 380.9ZM1341.8 356.4L1341.8 368.6L1334.6 367.9L1337.0 355.9ZM1341.8 368.6L1341.8 380.9L1332.2 380.0L1334.6 367.9ZM1341.8 405.4L1341.8 417.6L1325.0 416.0L1327.4 404.0ZM1337.0 355.9L1334.6 367.9L1327.7 365.9L1332.4 354.5ZM1334.6 367.9L1332.2 380.0L1323.0 377.2L1327.7 365.9ZM1329.8 392.0L1327.4 404.0L1313.6 399.8L1318.3 388.5ZM1318.3 388.5L1313.6 399.8L1300.9 393.0L1307.7 382.8ZM1298.4 375.2L1289.8 383.9L1280.6 372.7L1290.8 365.9ZM1281.7 320.0L1269.7 317.6L1273.8 303.8L1285.2 308.5ZM1321.4 318.3L1311.2 311.5L1315.8 305.9L1324.4 314.6ZM1333.1 323.2L1324.4 314.6L1328.1 311.5L1334.9 321.7ZM1327.7 297.9L1323.0 286.6L1332.2 283.8L1334.6 295.9ZM1323.0 286.6L1318.3 275.3L1329.8 271.8L1332.2 283.8ZM1318.3 275.3L1313.6 264.0L1327.4 259.8L1329.8 271.8Z"/>
<path fill="#d9c8b0" d="M1341.8 307.4L1341.8 295.1L1348.9 295.9L1346.5 307.9ZM1344.1 319.9L1346.5 307.9L1351.1 309.3L1346.4 320.6ZM1356.1 259.8L1358.5 247.8L1374.6 252.7L1369.9 264.0ZM1350.4 323.2L1359.1 314.6L1362.1 318.3L1351.9 325.1ZM1411.0 262.6L1419.7 253.9L1433.4 270.6L1423.2 277.5ZM1351.9 325.1L1362.1 318.3L1364.4 322.5L1353.1 327.2ZM1477.6 275.6L1488.9 271.0L1497.9 300.8L1485.9 303.2ZM1401.8 320.0L1413.8 317.6L1415.2 331.9L1403.0 331.9ZM1485.9 303.2L1497.9 300.8L1501.0 331.9L1488.8 331.9ZM1403.0 331.9L1415.2 331.9L1413.8 346.2L1401.8 343.8ZM1415.2 331.9L1427.5 331.9L1425.9 348.6L1413.8 346.2ZM1439.8 331.9L1452.0 331.9L1449.9 353.4L1437.9 351.0ZM1365.8 336.7L1377.8 339.1L1375.7 346.0L1364.4 341.3ZM1401.8 343.8L1413.8 346.2L1409.7 360.0L1398.3 355.3ZM1364.4 341.3L1375.7 346.0L1372.3 352.3L1362.1 345.5ZM1398.3 355.3L1409.7 360.0L1402.9 372.7L1392.7 365.9ZM1409.7 360.0L1421.0 364.7L1413.0 379.5L1402.9 372.7ZM1421.0 364.7L1432.3 369.4L1423.2 386.3L1413.0 379.5ZM1432.3 369.4L1443.6 374.1L1433.4 393.2L1423.2 386.3ZM1362.1 345.5L1372.3 352.3L1367.7 357.9L1359.1 349.2ZM1372.3 352.3L1382.5 359.1L1376.4 366.5L1367.7 357.9ZM1382.5 359.1L1392.7 365.9L1385.1 375.2L1376.4 366.5ZM1359.1 349.2L1367.7 357.9L1362.2 362.5L1355.4 352.3ZM1376.4 366.5L1385.1 375.2L1375.8 382.8L1369.0 372.6ZM1385.1 375.2L1393.7 383.9L1382.6 393.0L1375.8 382.8ZM1402.4 392.5L1411.0 401.2L1396.2 413.4L1389.4 403.2ZM1382.6 393.0L1389.4 403.2L1374.6 411.1L1369.9 399.8ZM1389.4 403.2L1396.2 413.4L1379.3 422.4L1374.6 411.1ZM1346.4 343.2L1351.1 354.5L1346.5 355.9L1344.1 343.9ZM1374.6 411.1L1379.3 422.4L1360.9 428.0L1358.5 416.0ZM1360.9 428.0L1363.3 440.0L1341.8 442.1L1341.8 429.9ZM1341.8 442.1L1341.8 454.4L1317.9 452.0L1320.2 440.0ZM1327.4 404.0L1325.0 416.0L1308.9 411.1L1313.6 399.8ZM1323.0 377.2L1318.3 388.5L1307.7 382.8L1314.5 372.6ZM1308.9 411.1L1304.2 422.4L1287.3 413.4L1294.1 403.2ZM1334.9 342.1L1328.1 352.3L1324.4 349.2L1333.1 340.6ZM1328.1 352.3L1321.3 362.5L1315.8 357.9L1324.4 349.2ZM1300.9 393.0L1294.1 403.2L1281.1 392.5L1289.8 383.9ZM1315.8 357.9L1307.1 366.5L1301.0 359.1L1311.2 352.3ZM1281.1 392.5L1272.5 401.2L1260.3 386.3L1270.5 379.5ZM1301.0 359.1L1290.8 365.9L1285.2 355.3L1296.5 350.7ZM1305.7 339.1L1293.7 341.5L1292.8 331.9L1305.0 331.9ZM1341.8 331.9L1329.5 331.9L1329.7 329.5L1341.8 331.9ZM1329.5 331.9L1317.2 331.9L1317.7 327.1L1329.7 329.5ZM1317.2 331.9L1305.0 331.9L1305.7 324.7L1317.7 327.1ZM1317.7 327.1L1305.7 324.7L1307.8 317.8L1319.1 322.5ZM1269.7 317.6L1257.6 315.2L1262.5 299.1L1273.8 303.8ZM1296.5 313.1L1285.2 308.5L1290.8 297.9L1301.0 304.7ZM1285.2 308.5L1273.8 303.8L1280.6 291.1L1290.8 297.9ZM1315.8 305.9L1307.1 297.3L1314.5 291.2L1321.3 301.3ZM1341.8 331.9L1334.9 321.7L1337.1 320.6L1341.8 331.9ZM1334.9 321.7L1328.1 311.5L1332.4 309.3L1337.1 320.6ZM1314.5 291.2L1307.7 281.0L1318.3 275.3L1323.0 286.6ZM1341.8 331.9L1339.4 319.9L1341.8 319.6L1341.8 331.9ZM1337.0 307.9L1334.6 295.9L1341.8 295.1L1341.8 307.4Z"/>
<path fill="#c7ba92" d="M1341.8 295.1L1341.8 282.9L1351.3 283.8L1348.9 295.9ZM1348.9 295.9L1351.3 283.8L1360.5 286.6L1355.8 297.9ZM1346.4 320.6L1351.1 309.3L1355.4 311.5L1348.6 321.7ZM1355.4 311.5L1362.2 301.3L1367.7 305.9L1359.1 314.6ZM1377.8 324.7L1389.8 322.3L1390.8 331.9L1378.5 331.9ZM1413.8 317.6L1425.9 315.2L1427.5 331.9L1415.2 331.9ZM1366.2 331.9L1378.5 331.9L1377.8 339.1L1365.8 336.7ZM1464.2 331.9L1476.5 331.9L1473.9 358.2L1461.9 355.8ZM1389.8 341.5L1401.8 343.8L1398.3 355.3L1387.0 350.7ZM1392.7 365.9L1402.9 372.7L1393.7 383.9L1385.1 375.2ZM1393.7 383.9L1402.4 392.5L1389.4 403.2L1382.6 393.0ZM1348.9 367.9L1351.3 380.0L1341.8 380.9L1341.8 368.6ZM1353.7 392.0L1356.1 404.0L1341.8 405.4L1341.8 393.1ZM1358.5 416.0L1360.9 428.0L1341.8 429.9L1341.8 417.6ZM1341.8 380.9L1341.8 393.1L1329.8 392.0L1332.2 380.0ZM1327.7 365.9L1323.0 377.2L1314.5 372.6L1321.3 362.5ZM1313.6 399.8L1308.9 411.1L1294.1 403.2L1300.9 393.0ZM1314.5 372.6L1307.7 382.8L1298.4 375.2L1307.1 366.5ZM1324.4 349.2L1315.8 357.9L1311.2 352.3L1321.4 345.5ZM1289.8 383.9L1281.1 392.5L1270.5 379.5L1280.6 372.7ZM1321.4 345.5L1311.2 352.3L1307.8 346.0L1319.1 341.3ZM1290.8 365.9L1280.6 372.7L1273.8 360.0L1285.2 355.3ZM1329.7 334.3L1317.7 336.7L1317.2 331.9L1329.5 331.9ZM1317.7 336.7L1305.7 339.1L1305.0 331.9L1317.2 331.9ZM1292.8 331.9L1280.5 331.9L1281.7 320.0L1293.7 322.3ZM1341.8 331.9L1333.1 323.2L1334.9 321.7L1341.8 331.9ZM1324.4 314.6L1315.8 305.9L1321.3 301.3L1328.1 311.5ZM1307.1 297.3L1298.4 288.6L1307.7 281.0L1314.5 291.2ZM1298.4 288.6L1289.8 279.9L1300.9 270.8L1307.7 281.0ZM1332.2 283.8L1329.8 271.8L1341.8 270.6L1341.8 282.9ZM1329.8 271.8L1327.4 259.8L1341.8 258.4L1341.8 270.6Z"/>
<path fill="#253f58" d="M1341.8 282.9L1341.8 270.6L1353.7 271.8L1351.3 283.8Z"/>
<path fill="#86a57c" d="M1341.8 270.6L1341.8 258.4L1356.1 259.8L1353.7 271.8ZM1346.5 307.9L1348.9 295.9L1355.8 297.9L1351.1 309.3ZM1351.3 283.8L1353.7 271.8L1365.2 275.3L1360.5 286.6ZM1351.1 309.3L1355.8 297.9L1362.2 301.3L1355.4 311.5ZM1355.8 297.9L1360.5 286.6L1369.0 291.2L1362.2 301.3ZM1369.9 264.0L1374.6 252.7L1389.4 260.6L1382.6 270.8ZM1362.2 301.3L1369.0 291.2L1376.4 297.3L1367.7 305.9ZM1367.7 305.9L1376.4 297.3L1382.5 304.7L1372.3 311.5ZM1398.3 308.5L1409.7 303.8L1413.8 317.6L1401.8 320.0ZM1409.7 303.8L1421.0 299.1L1425.9 315.2L1413.8 317.6ZM1378.5 331.9L1390.8 331.9L1389.8 341.5L1377.8 339.1ZM1427.5 331.9L1439.8 331.9L1437.9 351.0L1425.9 348.6ZM1367.7 357.9L1376.4 366.5L1369.0 372.6L1362.2 362.5ZM1362.2 362.5L1369.0 372.6L1360.5 377.2L1355.8 365.9ZM1375.8 382.8L1382.6 393.0L1369.9 399.8L1365.2 388.5ZM1360.5 377.2L1365.2 388.5L1353.7 392.0L1351.3 380.0ZM1341.8 331.9L1341.8 344.1L1339.4 343.9L1341.8 331.9ZM1341.8 344.1L1341.8 356.4L1337.0 355.9L1339.4 343.9ZM1332.2 380.0L1329.8 392.0L1318.3 388.5L1323.0 377.2ZM1307.1 366.5L1298.4 375.2L1290.8 365.9L1301.0 359.1ZM1332.4 309.3L1327.7 297.9L1334.6 295.9L1337.0 307.9Z"/>
<path fill="#e4dcd8" d="M1341.8 258.4L1341.8 246.1L1358.5 247.8L1356.1 259.8ZM1365.6 211.8L1368.0 199.7L1393.3 207.4L1388.6 218.7ZM1374.6 252.7L1379.3 241.4L1396.2 250.4L1389.4 260.6ZM1348.6 321.7L1355.4 311.5L1359.1 314.6L1350.4 323.2ZM1389.4 260.6L1396.2 250.4L1411.0 262.6L1402.4 271.3ZM1419.7 253.9L1428.4 245.3L1443.6 263.8L1433.4 270.6ZM1437.0 236.6L1445.7 228.0L1464.0 250.2L1453.8 257.0ZM1413.0 284.3L1423.2 277.5L1432.3 294.4L1421.0 299.1ZM1464.0 250.2L1474.2 243.4L1488.9 271.0L1477.6 275.6ZM1474.2 243.4L1484.3 236.6L1500.2 266.3L1488.9 271.0ZM1443.6 289.7L1454.9 285.0L1461.9 308.0L1449.9 310.4ZM1454.9 285.0L1466.2 280.3L1473.9 305.6L1461.9 308.0ZM1466.2 280.3L1477.6 275.6L1485.9 303.2L1473.9 305.6ZM1365.8 327.1L1377.8 324.7L1378.5 331.9L1366.2 331.9ZM1437.9 312.8L1449.9 310.4L1452.0 331.9L1439.8 331.9ZM1449.9 310.4L1461.9 308.0L1464.2 331.9L1452.0 331.9ZM1497.9 300.8L1510.0 298.4L1513.2 331.9L1501.0 331.9ZM1341.8 331.9L1354.0 331.9L1353.8 334.3L1341.8 331.9ZM1354.0 331.9L1366.2 331.9L1365.8 336.7L1353.8 334.3ZM1452.0 331.9L1464.2 331.9L1461.9 355.8L1449.9 353.4ZM1476.5 331.9L1488.8 331.9L1485.9 360.6L1473.9 358.2ZM1501.0 331.9L1513.2 331.9L1510.0 365.4L1497.9 363.0ZM1341.8 331.9L1353.8 334.3L1353.1 336.6L1341.8 331.9ZM1353.8 334.3L1365.8 336.7L1364.4 341.3L1353.1 336.6ZM1413.8 346.2L1425.9 348.6L1421.0 364.7L1409.7 360.0ZM1449.9 353.4L1461.9 355.8L1454.9 378.8L1443.6 374.1ZM1473.9 358.2L1485.9 360.6L1477.6 388.2L1466.2 383.5ZM1485.9 360.6L1497.9 363.0L1488.9 392.8L1477.6 388.2ZM1497.9 363.0L1510.0 365.4L1500.2 397.5L1488.9 392.8ZM1341.8 331.9L1353.1 336.6L1351.9 338.7L1341.8 331.9ZM1477.6 388.2L1488.9 392.8L1474.2 420.4L1464.0 413.6ZM1402.9 372.7L1413.0 379.5L1402.4 392.5L1393.7 383.9ZM1423.2 386.3L1433.4 393.2L1419.7 409.9L1411.0 401.2ZM1341.8 331.9L1350.4 340.6L1348.6 342.1L1341.8 331.9ZM1350.4 340.6L1359.1 349.2L1355.4 352.3L1348.6 342.1ZM1428.4 418.5L1437.0 427.2L1416.6 443.9L1409.8 433.8ZM1341.8 331.9L1348.6 342.1L1346.4 343.2L1341.8 331.9ZM1348.6 342.1L1355.4 352.3L1351.1 354.5L1346.4 343.2ZM1396.2 413.4L1403.0 423.6L1383.9 433.8L1379.3 422.4ZM1341.8 331.9L1346.4 343.2L1344.1 343.9L1341.8 331.9ZM1383.9 433.8L1388.6 445.1L1365.6 452.0L1363.3 440.0ZM1393.3 456.4L1398.0 467.7L1370.4 476.1L1368.0 464.1ZM1356.1 404.0L1358.5 416.0L1341.8 417.6L1341.8 405.4ZM1365.6 452.0L1368.0 464.1L1341.8 466.6L1341.8 454.4ZM1372.8 488.1L1375.2 500.1L1341.8 503.4L1341.8 491.1ZM1341.8 429.9L1341.8 442.1L1320.2 440.0L1322.6 428.0ZM1341.8 478.9L1341.8 491.1L1310.7 488.1L1313.1 476.1ZM1321.3 362.5L1314.5 372.6L1307.1 366.5L1315.8 357.9ZM1307.7 382.8L1300.9 393.0L1289.8 383.9L1298.4 375.2ZM1287.3 413.4L1280.5 423.6L1263.8 409.9L1272.5 401.2ZM1273.7 433.8L1266.9 443.9L1246.5 427.2L1255.1 418.5ZM1341.8 331.9L1333.1 340.6L1331.6 338.7L1341.8 331.9ZM1333.1 340.6L1324.4 349.2L1321.4 345.5L1331.6 338.7ZM1341.8 331.9L1331.6 338.7L1330.4 336.6L1341.8 331.9ZM1331.6 338.7L1321.4 345.5L1319.1 341.3L1330.4 336.6ZM1311.2 352.3L1301.0 359.1L1296.5 350.7L1307.8 346.0ZM1270.5 379.5L1260.3 386.3L1251.2 369.4L1262.5 364.7ZM1228.6 378.8L1217.3 383.5L1209.6 358.2L1221.6 355.8ZM1341.8 331.9L1329.7 334.3L1329.5 331.9L1341.8 331.9ZM1293.7 341.5L1281.7 343.8L1280.5 331.9L1292.8 331.9ZM1305.0 331.9L1292.8 331.9L1293.7 322.3L1305.7 324.7ZM1341.8 331.9L1329.7 329.5L1330.4 327.2L1341.8 331.9ZM1329.7 329.5L1317.7 327.1L1319.1 322.5L1330.4 327.2ZM1305.7 324.7L1293.7 322.3L1296.5 313.1L1307.8 317.8ZM1319.1 322.5L1307.8 317.8L1311.2 311.5L1321.4 318.3ZM1273.8 303.8L1262.5 299.1L1270.5 284.3L1280.6 291.1ZM1262.5 299.1L1251.2 294.4L1260.3 277.5L1270.5 284.3ZM1251.2 294.4L1239.9 289.7L1250.1 270.6L1260.3 277.5ZM1239.9 289.7L1228.6 285.0L1239.9 263.8L1250.1 270.6ZM1280.6 291.1L1270.5 284.3L1281.1 271.3L1289.8 279.9ZM1260.3 277.5L1250.1 270.6L1263.8 253.9L1272.5 262.6ZM1289.8 279.9L1281.1 271.3L1294.1 260.6L1300.9 270.8ZM1281.1 271.3L1272.5 262.6L1287.3 250.4L1294.1 260.6ZM1328.1 311.5L1321.3 301.3L1327.7 297.9L1332.4 309.3ZM1321.3 301.3L1314.5 291.2L1323.0 286.6L1327.7 297.9ZM1300.9 270.8L1294.1 260.6L1308.9 252.7L1313.6 264.0ZM1280.5 240.2L1273.7 230.0L1294.9 218.7L1299.6 230.0ZM1341.8 331.9L1337.1 320.6L1339.4 319.9L1341.8 331.9ZM1337.1 320.6L1332.4 309.3L1337.0 307.9L1339.4 319.9ZM1339.4 319.9L1337.0 307.9L1341.8 307.4L1341.8 319.6ZM1334.6 295.9L1332.2 283.8L1341.8 282.9L1341.8 295.1ZM1327.4 259.8L1325.0 247.8L1341.8 246.1L1341.8 258.4ZM1315.5 199.7L1313.1 187.7L1341.8 184.9L1341.8 197.1Z"/>
<path fill="#408f71" d="M1353.7 271.8L1356.1 259.8L1369.9 264.0L1365.2 275.3ZM1360.5 286.6L1365.2 275.3L1375.8 281.0L1369.0 291.2ZM1393.7 279.9L1402.4 271.3L1413.0 284.3L1402.9 291.1ZM1392.7 297.9L1402.9 291.1L1409.7 303.8L1398.3 308.5ZM1389.8 322.3L1401.8 320.0L1403.0 331.9L1390.8 331.9ZM1375.7 346.0L1387.0 350.7L1382.5 359.1L1372.3 352.3ZM1387.0 350.7L1398.3 355.3L1392.7 365.9L1382.5 359.1ZM1369.0 372.6L1375.8 382.8L1365.2 388.5L1360.5 377.2ZM1355.8 365.9L1360.5 377.2L1351.3 380.0L1348.9 367.9ZM1339.4 343.9L1337.0 355.9L1332.4 354.5L1337.1 343.2ZM1332.4 354.5L1327.7 365.9L1321.3 362.5L1328.1 352.3ZM1301.0 304.7L1290.8 297.9L1298.4 288.6L1307.1 297.3ZM1307.7 281.0L1300.9 270.8L1313.6 264.0L1318.3 275.3Z"/>
<path fill="#198170" d="M1365.2 275.3L1369.9 264.0L1382.6 270.8L1375.8 281.0ZM1382.6 270.8L1389.4 260.6L1402.4 271.3L1393.7 279.9ZM1382.5 304.7L1392.7 297.9L1398.3 308.5L1387.0 313.1ZM1402.9 291.1L1413.0 284.3L1421.0 299.1L1409.7 303.8Z"/>
<path fill="#211b37" d="M1369.0 291.2L1375.8 281.0L1385.1 288.6L1376.4 297.3Z"/>
<path fill="#0f606b" d="M1375.8 281.0L1382.6 270.8L1393.7 279.9L1385.1 288.6Z"/>
<path fill="#1e5064" d="M1376.4 297.3L1385.1 288.6L1392.7 297.9L1382.5 304.7ZM1390.8 331.9L1403.0 331.9L1401.8 343.8L1389.8 341.5Z"/>
<path fill="#05706f" d="M1385.1 288.6L1393.7 279.9L1402.9 291.1L1392.7 297.9Z"/>
<path fill="#659b76" d="M1402.4 271.3L1411.0 262.6L1423.2 277.5L1413.0 284.3ZM1375.7 317.8L1387.0 313.1L1389.8 322.3L1377.8 324.7ZM1387.0 313.1L1398.3 308.5L1401.8 320.0L1389.8 322.3ZM1365.2 388.5L1369.9 399.8L1356.1 404.0L1353.7 392.0ZM1369.9 399.8L1374.6 411.1L1358.5 416.0L1356.1 404.0ZM1341.8 393.1L1341.8 405.4L1327.4 404.0L1329.8 392.0ZM1330.4 336.6L1319.1 341.3L1317.7 336.7L1329.7 334.3ZM1311.2 311.5L1301.0 304.7L1307.1 297.3L1315.8 305.9Z"/>
</g>
<g fill="none" stroke="#b0b0b0" stroke-width="1.2"><circle cx="1341.75" cy="331.90" r="72.26"/><circle cx="1341.75" cy="331.90" r="144.52"/><circle cx="1341.75" cy="331.90" r="216.78"/><line x1="1342.5" y1="97.5" x2="1342.5" y2="566.3"/><line x1="1107.3" y1="332.5" x2="1576.2" y2="332.5"/><line x1="1341.8" y1="331.9" x2="1507.5" y2="166.2"/><line x1="1341.8" y1="331.9" x2="1507.5" y2="497.6"/><line x1="1341.8" y1="331.9" x2="1176.0" y2="497.6"/><line x1="1341.8" y1="331.9" x2="1176.0" y2="166.2"/></g>
<circle cx="1341.75" cy="331.90" r="234.4" fill="none" stroke="#000" stroke-width="1.1"/>
<rect x="1575.2" y="331.5" width="1.8" height="1.8" fill="#000"/>
<g fill="#000">
<text x="805.5" y="31.9" font-size="26.4" text-anchor="middle">May 2005</text>
<text x="273.6" y="61.0" font-size="23.5" text-anchor="middle">CIOFS</text>
<text x="808.6" y="61.0" font-size="23.5" text-anchor="middle">NWGOA</text>
<text x="1341.7" y="61.0" font-size="23.5" text-anchor="middle">CIOFS-NWGOA</text>
<text x="273.9" y="83.9" font-size="17.2" text-anchor="middle">N</text>
<text x="273.6" y="592.3" font-size="17.2" text-anchor="middle">S</text>
<text x="523.5" y="337.8" font-size="17.2" text-anchor="start">E</text>
<text x="29.4" y="337.8" font-size="17.2" text-anchor="end">W</text>
<text x="354.9" y="301.0" font-size="17.2" text-anchor="middle">0.2</text>
<text x="422.0" y="273.0" font-size="17.2" text-anchor="middle">0.4</text>
<text x="489.0" y="244.7" font-size="17.2" text-anchor="middle">0.6</text>
<text x="808.2" y="83.9" font-size="17.2" text-anchor="middle">N</text>
<text x="807.9" y="592.3" font-size="17.2" text-anchor="middle">S</text>
<text x="1057.7" y="337.8" font-size="17.2" text-anchor="start">E</text>
<text x="563.7" y="337.8" font-size="17.2" text-anchor="end">W</text>
<text x="889.1" y="301.0" font-size="17.2" text-anchor="middle">0.2</text>
<text x="956.2" y="273.0" font-size="17.2" text-anchor="middle">0.4</text>
<text x="1023.2" y="244.7" font-size="17.2" text-anchor="middle">0.6</text>
<text x="1342.2" y="83.9" font-size="17.2" text-anchor="middle">N</text>
<text x="1342.0" y="592.3" font-size="17.2" text-anchor="middle">S</text>
<text x="1591.8" y="337.8" font-size="17.2" text-anchor="start">E</text>
<text x="1097.8" y="337.8" font-size="17.2" text-anchor="end">W</text>
<text x="1423.2" y="301.0" font-size="17.2" text-anchor="middle">0.2</text>
<text x="1490.3" y="273.0" font-size="17.2" text-anchor="middle">0.4</text>
<text x="1557.3" y="244.7" font-size="17.2" text-anchor="middle">0.6</text>
</g>
<defs><linearGradient id="cb" x1="0" x2="1" y1="0" y2="0"><stop offset="0.0000" stop-color="#eeedf3"/><stop offset="0.0714" stop-color="#e4dcd8"/><stop offset="0.1429" stop-color="#d9c8b0"/><stop offset="0.2143" stop-color="#c7ba92"/><stop offset="0.2857" stop-color="#a6b084"/><stop offset="0.3571" stop-color="#86a57c"/><stop offset="0.4286" stop-color="#659b76"/><stop offset="0.5000" stop-color="#408f71"/><stop offset="0.5714" stop-color="#198170"/><stop offset="0.6429" stop-color="#05706f"/><stop offset="0.7143" stop-color="#0f606b"/><stop offset="0.7857" stop-color="#1e5064"/><stop offset="0.8571" stop-color="#253f58"/><stop offset="0.9286" stop-color="#272d49"/><stop offset="1.0000" stop-color="#211b37"/></linearGradient></defs>
<rect x="406.5" y="605.5" width="800" height="30" fill="url(#cb)" stroke="#000" stroke-width="1" shape-rendering="crispEdges"/>
<line x1="406.5" y1="635.5" x2="406.5" y2="656.5" stroke="#000" stroke-width="1" shape-rendering="crispEdges"/>
<g fill="#000"><text x="406.2" y="680.2" font-size="19.8" text-anchor="middle">0</text></g>
<line x1="520.5" y1="635.5" x2="520.5" y2="656.5" stroke="#000" stroke-width="1" shape-rendering="crispEdges"/>
<g fill="#000"><text x="520.5" y="680.2" font-size="19.8" text-anchor="middle">2</text></g>
<line x1="634.5" y1="635.5" x2="634.5" y2="656.5" stroke="#000" stroke-width="1" shape-rendering="crispEdges"/>
<g fill="#000"><text x="634.8" y="680.2" font-size="19.8" text-anchor="middle">4</text></g>
<line x1="749.5" y1="635.5" x2="749.5" y2="656.5" stroke="#000" stroke-width="1" shape-rendering="crispEdges"/>
<g fill="#000"><text x="749.1" y="680.2" font-size="19.8" text-anchor="middle">6</text></g>
<line x1="863.5" y1="635.5" x2="863.5" y2="656.5" stroke="#000" stroke-width="1" shape-rendering="crispEdges"/>
<g fill="#000"><text x="863.3" y="680.2" font-size="19.8" text-anchor="middle">8</text></g>
<line x1="977.5" y1="635.5" x2="977.5" y2="656.5" stroke="#000" stroke-width="1" shape-rendering="crispEdges"/>
<g fill="#000"><text x="977.6" y="680.2" font-size="19.8" text-anchor="middle">10</text></g>
<line x1="1091.5" y1="635.5" x2="1091.5" y2="656.5" stroke="#000" stroke-width="1" shape-rendering="crispEdges"/>
<g fill="#000"><text x="1091.9" y="680.2" font-size="19.8" text-anchor="middle">12</text></g>
<line x1="1206.5" y1="635.5" x2="1206.5" y2="656.5" stroke="#000" stroke-width="1" shape-rendering="crispEdges"/>
<g fill="#000"><text x="1206.2" y="680.2" font-size="19.8" text-anchor="middle">14</text></g>
<g fill="#000"><text x="805.4" y="708.9" font-size="21.1" text-anchor="middle">Currents [m/s] at COI0421; number of occurrences</text></g>
</svg>
</body></html>
